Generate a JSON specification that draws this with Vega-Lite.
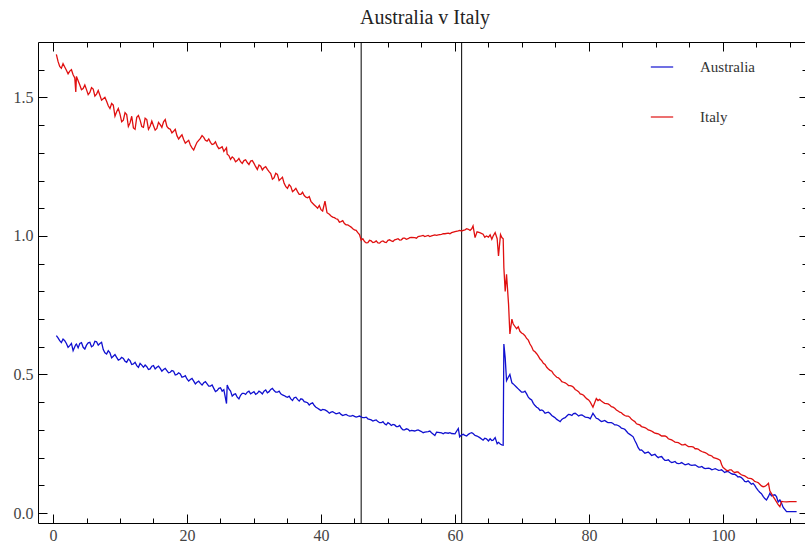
{
"$schema": "https://vega.github.io/schema/vega-lite/v6.json",
"width": 770, "height": 481,
"autosize": {"type": "none"},
"padding": {"left": 38, "top": 42, "right": 0, "bottom": 22},
"title": {"text": "Australia v Italy", "font": "Liberation Serif", "fontSize": 20, "fontWeight": "normal", "color": "#222222", "offset": 14, "anchor": "middle", "dx": 2},
"config": {"view": {"stroke": "black", "strokeWidth": 1}, "font": "Liberation Serif"},
"datasets": {
"marks": [{"x": 46}, {"x": 61}],
"series": [
{"x":0.5,"Australia":0.640,"Italy":1.655},{"x":1.0,"Australia":0.622,"Italy":1.612},{"x":1.5,"Australia":0.628,"Italy":1.622},{"x":2.0,"Australia":0.612,"Italy":1.598},{"x":2.5,"Australia":0.604,"Italy":1.595},{"x":3.0,"Australia":0.586,"Italy":1.582},{"x":3.4,"Australia":0.608,"Italy":1.520},{"x":3.5,"Australia":0.610,"Italy":1.576},{"x":4.0,"Australia":0.612,"Italy":1.545},{"x":4.5,"Australia":0.598,"Italy":1.532},{"x":5.0,"Australia":0.606,"Italy":1.528},{"x":5.5,"Australia":0.616,"Italy":1.518},{"x":6.0,"Australia":0.604,"Italy":1.530},{"x":6.5,"Australia":0.618,"Italy":1.512},{"x":7.0,"Australia":0.612,"Italy":1.508},{"x":7.5,"Australia":0.590,"Italy":1.495},{"x":8.0,"Australia":0.574,"Italy":1.486},{"x":8.5,"Australia":0.578,"Italy":1.460},{"x":9.0,"Australia":0.566,"Italy":1.472},{"x":9.5,"Australia":0.562,"Italy":1.448},{"x":10.0,"Australia":0.555,"Italy":1.440},{"x":10.5,"Australia":0.558,"Italy":1.418},{"x":11.0,"Australia":0.544,"Italy":1.438},{"x":11.5,"Australia":0.550,"Italy":1.408},{"x":12.0,"Australia":0.538,"Italy":1.390},{"x":12.5,"Australia":0.532,"Italy":1.428},{"x":13.0,"Australia":0.540,"Italy":1.418},{"x":13.5,"Australia":0.526,"Italy":1.392},{"x":14.0,"Australia":0.528,"Italy":1.420},{"x":14.5,"Australia":0.520,"Italy":1.396},{"x":15.0,"Australia":0.532,"Italy":1.398},{"x":15.5,"Australia":0.526,"Italy":1.388},{"x":16.0,"Australia":0.522,"Italy":1.402},{"x":16.5,"Australia":0.518,"Italy":1.412},{"x":17.0,"Australia":0.514,"Italy":1.395},{"x":17.5,"Australia":0.508,"Italy":1.385},{"x":18.0,"Australia":0.512,"Italy":1.378},{"x":18.5,"Australia":0.500,"Italy":1.362},{"x":19.0,"Australia":0.502,"Italy":1.358},{"x":19.5,"Australia":0.492,"Italy":1.348},{"x":20.0,"Australia":0.484,"Italy":1.340},{"x":20.5,"Australia":0.482,"Italy":1.328},{"x":21.0,"Australia":0.476,"Italy":1.310},{"x":21.5,"Australia":0.472,"Italy":1.338},{"x":22.0,"Australia":0.468,"Italy":1.352},{"x":22.5,"Australia":0.470,"Italy":1.356},{"x":23.0,"Australia":0.466,"Italy":1.342},{"x":23.5,"Australia":0.458,"Italy":1.338},{"x":24.0,"Australia":0.450,"Italy":1.332},{"x":24.5,"Australia":0.442,"Italy":1.325},{"x":25.0,"Australia":0.452,"Italy":1.318},{"x":25.5,"Australia":0.445,"Italy":1.305},{"x":25.9,"Australia":0.395,"Italy":1.318},{"x":26.0,"Australia":0.462,"Italy":1.295},{"x":26.5,"Australia":0.440,"Italy":1.276},{"x":27.0,"Australia":0.428,"Italy":1.280},{"x":27.5,"Australia":0.418,"Italy":1.272},{"x":28.0,"Australia":0.425,"Italy":1.268},{"x":28.5,"Australia":0.432,"Italy":1.272},{"x":29.0,"Australia":0.436,"Italy":1.265},{"x":29.5,"Australia":0.430,"Italy":1.270},{"x":30.0,"Australia":0.438,"Italy":1.262},{"x":30.5,"Australia":0.432,"Italy":1.240},{"x":31.0,"Australia":0.436,"Italy":1.252},{"x":31.5,"Australia":0.440,"Italy":1.246},{"x":32.0,"Australia":0.434,"Italy":1.240},{"x":32.5,"Australia":0.446,"Italy":1.225},{"x":33.0,"Australia":0.442,"Italy":1.210},{"x":33.5,"Australia":0.436,"Italy":1.222},{"x":34.0,"Australia":0.430,"Italy":1.206},{"x":34.5,"Australia":0.424,"Italy":1.190},{"x":35.0,"Australia":0.418,"Italy":1.172},{"x":35.5,"Australia":0.412,"Italy":1.178},{"x":36.0,"Australia":0.416,"Italy":1.165},{"x":36.5,"Australia":0.410,"Italy":1.160},{"x":37.0,"Australia":0.412,"Italy":1.150},{"x":37.5,"Australia":0.402,"Italy":1.146},{"x":38.0,"Australia":0.398,"Italy":1.138},{"x":38.5,"Australia":0.395,"Italy":1.125},{"x":39.0,"Australia":0.388,"Italy":1.112},{"x":39.5,"Australia":0.378,"Italy":1.100},{"x":40.0,"Australia":0.370,"Italy":1.095},{"x":40.6,"Australia":0.372,"Italy":1.126},{"x":40.9,"Australia":0.368,"Italy":1.084},{"x":41.5,"Australia":0.364,"Italy":1.072},{"x":42.0,"Australia":0.362,"Italy":1.066},{"x":42.5,"Australia":0.360,"Italy":1.060},{"x":43.0,"Australia":0.356,"Italy":1.052},{"x":43.5,"Australia":0.354,"Italy":1.045},{"x":44.0,"Australia":0.352,"Italy":1.040},{"x":44.5,"Australia":0.350,"Italy":1.032},{"x":45.0,"Australia":0.349,"Italy":1.022},{"x":45.5,"Australia":0.348,"Italy":1.012},{"x":46.0,"Australia":0.347,"Italy":0.985},{"x":46.5,"Australia":0.344,"Italy":0.980},{"x":47.0,"Australia":0.340,"Italy":0.976},{"x":47.5,"Australia":0.336,"Italy":0.982},{"x":48.0,"Australia":0.334,"Italy":0.978},{"x":48.5,"Australia":0.330,"Italy":0.975},{"x":49.0,"Australia":0.326,"Italy":0.980},{"x":49.5,"Australia":0.322,"Italy":0.978},{"x":50.0,"Australia":0.326,"Italy":0.984},{"x":50.5,"Australia":0.316,"Italy":0.982},{"x":51.0,"Australia":0.318,"Italy":0.986},{"x":51.5,"Australia":0.312,"Italy":0.990},{"x":52.0,"Australia":0.306,"Italy":0.986},{"x":52.5,"Australia":0.300,"Italy":0.992},{"x":53.0,"Australia":0.302,"Italy":0.990},{"x":53.5,"Australia":0.298,"Italy":0.995},{"x":54.0,"Australia":0.296,"Italy":0.994},{"x":54.5,"Australia":0.300,"Italy":0.998},{"x":55.0,"Australia":0.294,"Italy":1.000},{"x":55.5,"Australia":0.292,"Italy":0.998},{"x":56.0,"Australia":0.294,"Italy":1.002},{"x":56.5,"Australia":0.290,"Italy":1.000},{"x":57.0,"Australia":0.280,"Italy":1.004},{"x":57.5,"Australia":0.291,"Italy":1.004},{"x":58.0,"Australia":0.289,"Italy":1.006},{"x":58.5,"Australia":0.290,"Italy":1.008},{"x":59.0,"Australia":0.288,"Italy":1.010},{"x":59.5,"Australia":0.287,"Italy":1.012},{"x":60.0,"Australia":0.286,"Italy":1.016},{"x":60.5,"Australia":0.305,"Italy":1.018},{"x":60.7,"Australia":0.275,"Italy":1.020},{"x":61.0,"Australia":0.282,"Italy":1.018},{"x":61.5,"Australia":0.280,"Italy":1.022},{"x":62.0,"Australia":0.284,"Italy":1.024},{"x":62.5,"Australia":0.290,"Italy":1.026},{"x":62.7,"Australia":0.287,"Italy":1.036},{"x":63.0,"Australia":0.280,"Italy":0.994},{"x":63.3,"Australia":0.278,"Italy":1.015},{"x":63.7,"Australia":0.272,"Italy":1.012},{"x":64.2,"Australia":0.263,"Italy":1.006},{"x":64.7,"Australia":0.268,"Italy":1.000},{"x":65.0,"Australia":0.260,"Italy":0.996},{"x":65.5,"Australia":0.262,"Italy":0.988},{"x":65.7,"Australia":0.263,"Italy":1.000},{"x":66.0,"Australia":0.272,"Italy":1.012},{"x":66.3,"Australia":0.250,"Italy":0.990},{"x":66.5,"Australia":0.255,"Italy":0.928},{"x":66.8,"Australia":0.248,"Italy":1.005},{"x":67.0,"Australia":0.246,"Italy":0.994},{"x":67.2,"Australia":0.245,"Italy":0.990},{"x":67.3,"Australia":0.610,"Italy":0.886},{"x":67.5,"Australia":0.560,"Italy":0.800},{"x":67.7,"Australia":0.478,"Italy":0.862},{"x":68.0,"Australia":0.492,"Italy":0.754},{"x":68.2,"Australia":0.500,"Italy":0.646},{"x":68.5,"Australia":0.470,"Italy":0.700},{"x":68.7,"Australia":0.466,"Italy":0.682},{"x":69.2,"Australia":0.454,"Italy":0.665},{"x":69.7,"Australia":0.442,"Italy":0.656},{"x":70.2,"Australia":0.436,"Italy":0.646},{"x":70.7,"Australia":0.430,"Italy":0.630},{"x":71.2,"Australia":0.412,"Italy":0.610},{"x":71.7,"Australia":0.396,"Italy":0.586},{"x":72.2,"Australia":0.382,"Italy":0.575},{"x":72.7,"Australia":0.370,"Italy":0.556},{"x":73.2,"Australia":0.368,"Italy":0.540},{"x":73.7,"Australia":0.362,"Italy":0.526},{"x":74.2,"Australia":0.359,"Italy":0.515},{"x":74.7,"Australia":0.348,"Italy":0.502},{"x":75.2,"Australia":0.338,"Italy":0.490},{"x":75.7,"Australia":0.330,"Italy":0.482},{"x":76.2,"Australia":0.342,"Italy":0.472},{"x":76.7,"Australia":0.350,"Italy":0.466},{"x":77.2,"Australia":0.355,"Italy":0.460},{"x":77.7,"Australia":0.359,"Italy":0.454},{"x":78.2,"Australia":0.356,"Italy":0.442},{"x":78.7,"Australia":0.353,"Italy":0.430},{"x":79.2,"Australia":0.350,"Italy":0.425},{"x":79.7,"Australia":0.345,"Italy":0.412},{"x":80.2,"Australia":0.340,"Italy":0.400},{"x":80.6,"Australia":0.360,"Italy":0.382},{"x":81.1,"Australia":0.342,"Italy":0.413},{"x":81.6,"Australia":0.335,"Italy":0.410},{"x":82.1,"Australia":0.332,"Italy":0.400},{"x":82.6,"Australia":0.330,"Italy":0.395},{"x":83.1,"Australia":0.326,"Italy":0.390},{"x":83.6,"Australia":0.323,"Italy":0.382},{"x":84.1,"Australia":0.318,"Italy":0.372},{"x":84.6,"Australia":0.312,"Italy":0.364},{"x":85.1,"Australia":0.305,"Italy":0.356},{"x":85.6,"Australia":0.295,"Italy":0.350},{"x":86.1,"Australia":0.284,"Italy":0.346},{"x":86.6,"Australia":0.275,"Italy":0.334},{"x":87.1,"Australia":0.250,"Italy":0.322},{"x":87.6,"Australia":0.227,"Italy":0.318},{"x":88.1,"Australia":0.222,"Italy":0.310},{"x":88.6,"Australia":0.218,"Italy":0.305},{"x":89.1,"Australia":0.215,"Italy":0.298},{"x":89.6,"Australia":0.210,"Italy":0.292},{"x":90.1,"Australia":0.205,"Italy":0.287},{"x":90.6,"Australia":0.203,"Italy":0.282},{"x":91.1,"Australia":0.196,"Italy":0.278},{"x":91.6,"Australia":0.190,"Italy":0.275},{"x":92.1,"Australia":0.186,"Italy":0.266},{"x":92.6,"Australia":0.184,"Italy":0.260},{"x":93.1,"Australia":0.180,"Italy":0.255},{"x":93.6,"Australia":0.179,"Italy":0.250},{"x":94.1,"Australia":0.178,"Italy":0.246},{"x":94.6,"Australia":0.176,"Italy":0.244},{"x":95.1,"Australia":0.174,"Italy":0.240},{"x":95.6,"Australia":0.173,"Italy":0.238},{"x":96.1,"Australia":0.170,"Italy":0.232},{"x":96.6,"Australia":0.166,"Italy":0.225},{"x":97.1,"Australia":0.163,"Italy":0.220},{"x":97.6,"Australia":0.161,"Italy":0.215},{"x":98.1,"Australia":0.160,"Italy":0.208},{"x":98.6,"Australia":0.158,"Italy":0.200},{"x":99.1,"Australia":0.157,"Italy":0.196},{"x":99.6,"Australia":0.155,"Italy":0.190},{"x":100.0,"Australia":0.152,"Italy":0.165},{"x":100.5,"Australia":0.149,"Italy":0.155},{"x":101.0,"Australia":0.146,"Italy":0.156},{"x":101.5,"Australia":0.140,"Italy":0.150},{"x":102.0,"Australia":0.136,"Italy":0.148},{"x":102.5,"Australia":0.131,"Italy":0.143},{"x":103.0,"Australia":0.122,"Italy":0.136},{"x":103.5,"Australia":0.113,"Italy":0.130},{"x":104.0,"Australia":0.110,"Italy":0.125},{"x":104.5,"Australia":0.107,"Italy":0.120},{"x":105.0,"Australia":0.090,"Italy":0.112},{"x":105.5,"Australia":0.075,"Italy":0.104},{"x":106.0,"Australia":0.060,"Italy":0.095},{"x":106.5,"Australia":0.047,"Italy":0.100},{"x":106.8,"Australia":0.060,"Italy":0.107},{"x":107.0,"Australia":0.071,"Italy":0.080},{"x":107.5,"Australia":0.065,"Italy":0.059},{"x":108.0,"Australia":0.059,"Italy":0.040},{"x":108.5,"Australia":0.047,"Italy":0.023},{"x":109.0,"Australia":0.020,"Italy":0.041},{"x":109.5,"Australia":0.005,"Italy":0.040},{"x":110.0,"Australia":0.005,"Italy":0.041},{"x":110.5,"Australia":0.005,"Italy":0.041},{"x":111.0,"Australia":0.005,"Italy":0.041},
{"x":0.75,"Australia":0.632,"Italy":1.630},{"x":1.25,"Australia":0.615,"Italy":1.605},{"x":1.75,"Australia":0.622,"Italy":1.610},{"x":2.25,"Australia":0.598,"Italy":1.585},{"x":2.75,"Australia":0.612,"Italy":1.600},{"x":3.25,"Australia":0.600,"Italy":1.570},{"x":3.75,"Australia":0.596,"Italy":1.560},{"x":4.25,"Australia":0.615,"Italy":1.528},{"x":4.75,"Australia":0.592,"Italy":1.545},{"x":5.25,"Australia":0.614,"Italy":1.510},{"x":5.75,"Australia":0.600,"Italy":1.535},{"x":6.25,"Australia":0.620,"Italy":1.505},{"x":6.75,"Australia":0.606,"Italy":1.525},{"x":7.25,"Australia":0.616,"Italy":1.490},{"x":7.75,"Australia":0.578,"Italy":1.500},{"x":8.25,"Australia":0.586,"Italy":1.470},{"x":8.75,"Australia":0.560,"Italy":1.478},{"x":9.25,"Australia":0.572,"Italy":1.432},{"x":9.75,"Australia":0.552,"Italy":1.460},{"x":10.25,"Australia":0.562,"Italy":1.412},{"x":10.75,"Australia":0.548,"Italy":1.445},{"x":11.25,"Australia":0.556,"Italy":1.395},{"x":11.75,"Australia":0.536,"Italy":1.432},{"x":12.25,"Australia":0.544,"Italy":1.385},{"x":12.75,"Australia":0.526,"Italy":1.435},{"x":13.25,"Australia":0.534,"Italy":1.395},{"x":13.75,"Australia":0.534,"Italy":1.425},{"x":14.25,"Australia":0.518,"Italy":1.385},{"x":14.75,"Australia":0.530,"Italy":1.415},{"x":15.25,"Australia":0.520,"Italy":1.382},{"x":15.75,"Australia":0.530,"Italy":1.410},{"x":16.25,"Australia":0.512,"Italy":1.392},{"x":16.75,"Australia":0.522,"Italy":1.420},{"x":17.25,"Australia":0.506,"Italy":1.388},{"x":17.75,"Australia":0.514,"Italy":1.372},{"x":18.25,"Australia":0.498,"Italy":1.385},{"x":18.75,"Australia":0.506,"Italy":1.350},{"x":19.25,"Australia":0.490,"Italy":1.365},{"x":19.75,"Australia":0.496,"Italy":1.335},{"x":20.25,"Australia":0.476,"Italy":1.345},{"x":20.75,"Australia":0.486,"Italy":1.318},{"x":21.25,"Australia":0.466,"Italy":1.325},{"x":21.75,"Australia":0.476,"Italy":1.345},{"x":22.25,"Australia":0.462,"Italy":1.362},{"x":22.75,"Australia":0.474,"Italy":1.345},{"x":23.25,"Australia":0.458,"Italy":1.350},{"x":23.75,"Australia":0.462,"Italy":1.330},{"x":24.25,"Australia":0.438,"Italy":1.340},{"x":24.75,"Australia":0.450,"Italy":1.315},{"x":25.25,"Australia":0.440,"Italy":1.322},{"x":26.25,"Australia":0.448,"Italy":1.290},{"x":26.75,"Australia":0.422,"Italy":1.285},{"x":27.25,"Australia":0.430,"Italy":1.268},{"x":27.75,"Australia":0.412,"Italy":1.280},{"x":28.25,"Australia":0.432,"Italy":1.262},{"x":28.75,"Australia":0.428,"Italy":1.275},{"x":29.25,"Australia":0.440,"Italy":1.258},{"x":29.75,"Australia":0.434,"Italy":1.272},{"x":30.25,"Australia":0.428,"Italy":1.250},{"x":30.75,"Australia":0.440,"Italy":1.256},{"x":31.25,"Australia":0.430,"Italy":1.238},{"x":31.75,"Australia":0.444,"Italy":1.250},{"x":32.25,"Australia":0.438,"Italy":1.232},{"x":32.75,"Australia":0.450,"Italy":1.205},{"x":33.25,"Australia":0.436,"Italy":1.226},{"x":33.75,"Australia":0.440,"Italy":1.200},{"x":34.25,"Australia":0.426,"Italy":1.212},{"x":34.75,"Australia":0.420,"Italy":1.178},{"x":35.25,"Australia":0.422,"Italy":1.185},{"x":35.75,"Australia":0.406,"Italy":1.160},{"x":36.25,"Australia":0.418,"Italy":1.172},{"x":36.75,"Australia":0.404,"Italy":1.150},{"x":37.25,"Australia":0.410,"Italy":1.158},{"x":37.75,"Australia":0.400,"Italy":1.140},{"x":38.25,"Australia":0.390,"Italy":1.142},{"x":38.75,"Australia":0.398,"Italy":1.118},{"x":39.25,"Australia":0.382,"Italy":1.106},{"x":39.75,"Australia":0.374,"Italy":1.110},{"x":40.25,"Australia":0.374,"Italy":1.090},{"x":41.25,"Australia":0.360,"Italy":1.078},{"x":41.75,"Australia":0.366,"Italy":1.068},{"x":42.25,"Australia":0.358,"Italy":1.062},{"x":42.75,"Australia":0.362,"Italy":1.050},{"x":43.25,"Australia":0.352,"Italy":1.055},{"x":43.75,"Australia":0.356,"Italy":1.040},{"x":44.25,"Australia":0.350,"Italy":1.036},{"x":44.75,"Australia":0.352,"Italy":1.026},{"x":45.25,"Australia":0.346,"Italy":1.020},{"x":45.75,"Australia":0.350,"Italy":1.005},
{"x":46.25,"Australia":0.344,"Italy":0.990},{"x":46.75,"Australia":0.346,"Italy":0.975},{"x":47.25,"Australia":0.338,"Italy":0.984},{"x":47.75,"Australia":0.332,"Italy":0.976},{"x":48.25,"Australia":0.336,"Italy":0.982},{"x":48.75,"Australia":0.326,"Italy":0.974},{"x":49.25,"Australia":0.330,"Italy":0.982},{"x":49.75,"Australia":0.318,"Italy":0.976},{"x":50.25,"Australia":0.322,"Italy":0.986},{"x":50.75,"Australia":0.320,"Italy":0.980},{"x":51.25,"Australia":0.312,"Italy":0.988},{"x":51.75,"Australia":0.316,"Italy":0.985},{"x":52.25,"Australia":0.300,"Italy":0.992},{"x":52.75,"Australia":0.304,"Italy":0.988},{"x":53.25,"Australia":0.296,"Italy":0.994},{"x":54.25,"Australia":0.298,"Italy":0.992},{"x":55.25,"Australia":0.290,"Italy":1.002},{"x":56.25,"Australia":0.296,"Italy":0.998},{"x":57.25,"Australia":0.292,"Italy":1.002},{"x":58.25,"Australia":0.286,"Italy":1.008},{"x":59.25,"Australia":0.290,"Italy":1.008},{"x":61.25,"Australia":0.284,"Italy":1.020},{"x":61.75,"Australia":0.278,"Italy":1.026},{"x":62.25,"Australia":0.288,"Italy":1.020},{"x":64.45,"Australia":0.270,"Italy":0.995},{"x":65.25,"Australia":0.268,"Italy":1.004},
{"x":69.45,"Australia":0.448,"Italy":0.672},{"x":69.95,"Australia":0.436,"Italy":0.650},{"x":70.45,"Australia":0.440,"Italy":0.640},{"x":70.95,"Australia":0.418,"Italy":0.624},{"x":71.45,"Australia":0.408,"Italy":0.600},{"x":71.95,"Australia":0.388,"Italy":0.582},{"x":72.45,"Australia":0.378,"Italy":0.566},{"x":72.95,"Australia":0.372,"Italy":0.550},{"x":73.45,"Australia":0.360,"Italy":0.536},{"x":73.95,"Australia":0.364,"Italy":0.520},{"x":74.45,"Australia":0.352,"Italy":0.512},{"x":74.95,"Australia":0.344,"Italy":0.496},{"x":75.45,"Australia":0.334,"Italy":0.488},{"x":75.95,"Australia":0.338,"Italy":0.474},{"x":76.45,"Australia":0.344,"Italy":0.470},{"x":76.95,"Australia":0.356,"Italy":0.460},{"x":77.45,"Australia":0.352,"Italy":0.458},{"x":77.95,"Australia":0.360,"Italy":0.446},{"x":78.45,"Australia":0.350,"Italy":0.438},{"x":78.95,"Australia":0.354,"Italy":0.428},{"x":79.45,"Australia":0.346,"Italy":0.418},{"x":79.95,"Australia":0.344,"Italy":0.408},{"x":81.35,"Australia":0.340,"Italy":0.406},{"x":81.85,"Australia":0.330,"Italy":0.404},{"x":82.35,"Australia":0.334,"Italy":0.396},{"x":82.85,"Australia":0.326,"Italy":0.394},{"x":83.35,"Australia":0.326,"Italy":0.384},{"x":83.85,"Australia":0.318,"Italy":0.378},{"x":84.35,"Australia":0.316,"Italy":0.368},{"x":84.85,"Australia":0.306,"Italy":0.362},{"x":85.35,"Australia":0.302,"Italy":0.352},{"x":85.85,"Australia":0.288,"Italy":0.350},{"x":86.35,"Australia":0.280,"Italy":0.338},{"x":86.85,"Australia":0.262,"Italy":0.330},{"x":87.35,"Australia":0.236,"Italy":0.320},{"x":87.85,"Australia":0.228,"Italy":0.312},{"x":88.35,"Australia":0.216,"Italy":0.308},{"x":88.85,"Australia":0.220,"Italy":0.300},{"x":89.35,"Australia":0.208,"Italy":0.296},{"x":89.85,"Australia":0.212,"Italy":0.288},{"x":90.35,"Australia":0.200,"Italy":0.286},{"x":90.85,"Australia":0.204,"Italy":0.278},{"x":91.35,"Australia":0.190,"Italy":0.278},{"x":91.85,"Australia":0.192,"Italy":0.268},{"x":92.35,"Australia":0.182,"Italy":0.264},{"x":92.85,"Australia":0.186,"Italy":0.256},{"x":93.35,"Australia":0.178,"Italy":0.254},{"x":93.85,"Australia":0.182,"Italy":0.246},{"x":94.35,"Australia":0.174,"Italy":0.248},{"x":94.85,"Australia":0.178,"Italy":0.240},{"x":95.35,"Australia":0.172,"Italy":0.240},{"x":95.85,"Australia":0.174,"Italy":0.232},{"x":96.35,"Australia":0.166,"Italy":0.230},{"x":96.85,"Australia":0.168,"Italy":0.222},{"x":97.35,"Australia":0.160,"Italy":0.218},{"x":97.85,"Australia":0.162,"Italy":0.210},{"x":98.35,"Australia":0.156,"Italy":0.206},{"x":98.85,"Australia":0.160,"Italy":0.198},{"x":99.35,"Australia":0.154,"Italy":0.194},{"x":99.8,"Australia":0.156,"Italy":0.175},{"x":100.25,"Australia":0.146,"Italy":0.160},{"x":100.75,"Australia":0.150,"Italy":0.152},{"x":101.25,"Australia":0.142,"Italy":0.156},{"x":101.75,"Australia":0.140,"Italy":0.146},{"x":102.25,"Australia":0.130,"Italy":0.148},{"x":102.75,"Australia":0.128,"Italy":0.138},{"x":103.25,"Australia":0.114,"Italy":0.134},{"x":103.75,"Australia":0.116,"Italy":0.126},{"x":104.25,"Australia":0.104,"Italy":0.124},{"x":104.75,"Australia":0.100,"Italy":0.114},{"x":105.25,"Australia":0.082,"Italy":0.110},{"x":105.75,"Australia":0.070,"Italy":0.098},{"x":106.25,"Australia":0.052,"Italy":0.096},{"x":107.25,"Australia":0.062,"Italy":0.070},{"x":107.75,"Australia":0.066,"Italy":0.050},{"x":108.25,"Australia":0.040,"Italy":0.030},{"x":108.75,"Australia":0.035,"Italy":0.042}
]},
"layer": [
{"data": {"name": "marks"},
 "mark": {"type": "rule", "color": "black", "strokeWidth": 1},
 "encoding": {"x": {"field": "x", "type": "quantitative",
   "scale": {"domain": [-2.24, 112.7], "nice": false, "zero": false},
   "axis": {"orient": "bottom", "title": null, "grid": false, "domain": false,
     "values": [0,5,10,15,20,25,30,35,40,45,50,55,60,65,70,75,80,85,90,95,100,105,110],
     "labelExpr": "datum.value % 20 === 0 ? datum.label : ''",
     "tickColor": "black", "tickWidth": 1,
     "tickSize": {"condition": {"test": "datum.value % 20 === 0", "value": -9}, "value": -5},
     "labelFont": "Liberation Serif", "labelFontSize": 16, "labelColor": "#444444", "labelPadding": 13, "labelFlush": false}}}},
{"data": {"name": "series"},
 "transform": [{"fold": ["Australia", "Italy"], "as": ["country", "value"]}],
 "mark": {"type": "line", "strokeWidth": 1.3, "clip": true},
 "encoding": {
  "x": {"field": "x", "type": "quantitative",
   "axis": {"orient": "top", "title": null, "grid": false, "domain": false, "labels": false,
     "values": [0,5,10,15,20,25,30,35,40,45,50,55,60,65,70,75,80,85,90,95,100,105,110],
     "tickColor": "black", "tickWidth": 1,
     "tickSize": {"condition": {"test": "datum.value % 20 === 0", "value": -9}, "value": -5}}},
  "y": {"field": "value", "type": "quantitative",
   "scale": {"domain": [-0.036, 1.70], "nice": false, "zero": false},
   "axis": {"orient": "left", "title": null, "grid": false, "domain": false,
     "values": [0,0.1,0.2,0.3,0.4,0.5,0.6,0.7,0.8,0.9,1.0,1.1,1.2,1.3,1.4,1.5,1.6],
     "labelExpr": "(round(datum.value*10) % 5 === 0) ? format(datum.value, '.1f') : ''",
     "tickColor": "black", "tickWidth": 1,
     "tickSize": {"condition": {"test": "round(datum.value*10) % 5 === 0", "value": -9}, "value": -6},
     "labelFont": "Liberation Serif", "labelFontSize": 16, "labelColor": "#444444", "labelPadding": 14}},
  "color": {"field": "country", "type": "nominal",
   "scale": {"domain": ["Australia", "Italy"], "range": ["#1010d0", "#e01010"]},
   "legend": {"orient": "none", "legendX": 612, "legendY": 13, "title": null,
     "symbolType": "stroke", "symbolSize": 500, "symbolStrokeWidth": 1.2,
     "labelFont": "Liberation Serif", "labelFontSize": 15, "labelColor": "#333333",
     "labelOffset": 26, "rowPadding": 30, "padding": 0}}}},
{"data": {"name": "series"},
 "transform": [{"fold": ["Australia", "Italy"], "as": ["country", "value"]}],
 "mark": {"type": "point", "opacity": 0},
 "encoding": {
  "x": {"field": "x", "type": "quantitative", "axis": null},
  "y": {"field": "value", "type": "quantitative",
   "axis": {"orient": "right", "title": null, "grid": false, "domain": false, "labels": false,
     "values": [0,0.1,0.2,0.3,0.4,0.5,0.6,0.7,0.8,0.9,1.0,1.1,1.2,1.3,1.4,1.5,1.6],
     "tickColor": "black", "tickWidth": 1,
     "tickSize": {"condition": {"test": "round(datum.value*10) % 5 === 0", "value": -9}, "value": -6}}}}}
],
"resolve": {"axis": {"x": "independent", "y": "independent"}}
}
